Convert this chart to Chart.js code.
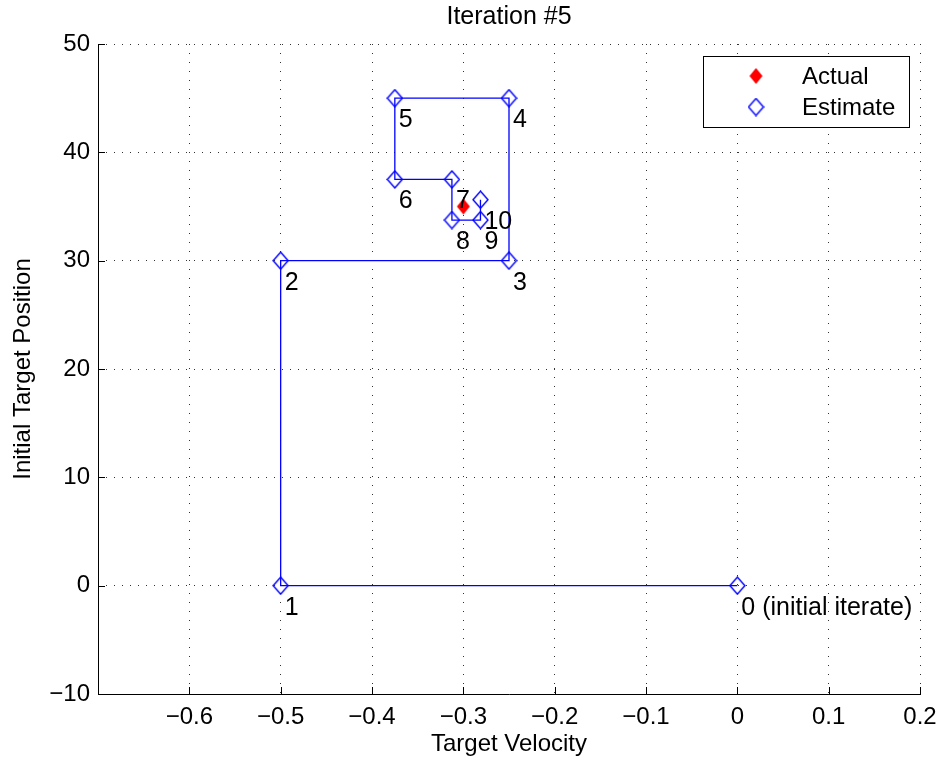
<!DOCTYPE html>
<html>
<head>
<meta charset="utf-8">
<script src="https://cdn.jsdelivr.net/npm/chart.js@4.4.1/dist/chart.umd.min.js"></script>
<style>
  html, body { margin: 0; padding: 0; background: #ffffff; }
  #wrap { width: 943px; height: 761px; }
</style>
</head>
<body>
<div id="wrap"><canvas id="c" width="943" height="761"></canvas></div>
<script>
// ---- data ----
const iterateLabels = ['0 (initial iterate)', '1', '2', '3', '4', '5', '6', '7', '8', '9', '10'];
const estimateVelocity = [0, -0.5, -0.5, -0.25, -0.25, -0.375, -0.375, -0.3125, -0.3125, -0.28125, -0.28125];
const estimatePosition = [0, 0, 30, 30, 45, 45, 37.5, 37.5, 33.75, 33.75, 35.625];
const actualVelocity = [-0.3];
const actualPosition = [35];
const xTickValues = [-0.7, -0.6, -0.5, -0.4, -0.3, -0.2, -0.1, 0, 0.1, 0.2];
const yTickValues = [-10, 0, 10, 20, 30, 40, 50];
const hiddenXTickLabels = [-0.7];
const chartTitle = 'Iteration #5';
const xAxisTitle = 'Target Velocity';
const yAxisTitle = 'Initial Target Position';
const legendLabels = ['Actual', 'Estimate'];

// ---- styles ----
const FONT = "'Liberation Sans', Arial, Helvetica, sans-serif";
const FS = 24;
const BLUE = '#0000ff';
const RED = '#ff0000';

function makeDiamond(w, h, fill, stroke) {
  const cv = document.createElement('canvas');
  cv.width = w + 2; cv.height = h + 2;
  const g = cv.getContext('2d');
  const cx = cv.width / 2, cy = cv.height / 2;
  g.beginPath();
  g.moveTo(cx, cy - h / 2);
  g.lineTo(cx + w / 2, cy);
  g.lineTo(cx, cy + h / 2);
  g.lineTo(cx - w / 2, cy);
  g.closePath();
  if (fill) { g.fillStyle = fill; g.fill(); }
  if (stroke) { g.strokeStyle = stroke; g.lineWidth = 1.4; g.stroke(); }
  return cv;
}
const blueDiamond = makeDiamond(15, 17, null, BLUE);
const redDiamond = makeDiamond(13, 16, RED, null);

function fmt(v) {
  const r = Math.round(v * 10) / 10;
  if (r === 0) return '0';
  const s = Number.isInteger(r) ? String(Math.abs(r)) : Math.abs(r).toFixed(1);
  return (r < 0 ? '\u2212' : '') + s;
}

const decor = {
  id: 'decor',
  afterDatasetsDraw(chart) {
    const ctx = chart.ctx;
    const xs = chart.scales.x, ys = chart.scales.y;
    const a = chart.chartArea;
    ctx.save();
    // inward tick marks
    ctx.strokeStyle = '#000';
    ctx.lineWidth = 1;
    ctx.setLineDash([]);
    ctx.beginPath();
    yTickValues.forEach(v => {
      const py = Math.round(ys.getPixelForValue(v)) + 0.5;
      ctx.moveTo(a.left, py); ctx.lineTo(a.left + 7, py);
    });
    xTickValues.forEach(v => {
      const px = Math.round(xs.getPixelForValue(v)) + 0.5;
      ctx.moveTo(px, a.bottom); ctx.lineTo(px, a.bottom - 7);
    });
    ctx.stroke();
    // axis lines
    ctx.beginPath();
    ctx.moveTo(Math.round(a.left) + 0.5, a.top);
    ctx.lineTo(Math.round(a.left) + 0.5, Math.round(a.bottom) + 0.5);
    ctx.lineTo(a.right + 1, Math.round(a.bottom) + 0.5);
    ctx.stroke();

    // iterate labels
    ctx.fillStyle = '#000';
    ctx.font = '25px ' + FONT;
    ctx.textAlign = 'left';
    ctx.textBaseline = 'alphabetic';
    iterateLabels.forEach((t, i) => {
      const px = xs.getPixelForValue(estimateVelocity[i]);
      const py = ys.getPixelForValue(estimatePosition[i]);
      ctx.fillText(t, px + 4, py + 29);
    });

    // legend
    ctx.font = FS + 'px ' + FONT;
    const lx = 703.5, ly = 56.5, lw = 206, lh = 71;
    ctx.fillStyle = '#fff';
    ctx.fillRect(lx, ly, lw, lh);
    ctx.strokeStyle = '#000';
    ctx.lineWidth = 1;
    ctx.strokeRect(lx, ly, lw, lh);
    ctx.drawImage(redDiamond, 756 - redDiamond.width / 2, 76 - redDiamond.height / 2);
    ctx.drawImage(blueDiamond, 756 - blueDiamond.width / 2, 107 - blueDiamond.height / 2);
    ctx.fillStyle = '#000';
    ctx.textBaseline = 'middle';
    ctx.fillText(legendLabels[0], 802, 77);
    ctx.fillText(legendLabels[1], 802, 108);

    // titles
    ctx.textAlign = 'center';
    ctx.textBaseline = 'alphabetic';
    const cx = (a.left + a.right) / 2;
    const cy = (a.top + a.bottom) / 2;
    ctx.font = '25px ' + FONT;
    ctx.fillText(chartTitle, cx, 24);
    ctx.font = FS + 'px ' + FONT;
    ctx.fillText(xAxisTitle, cx, 751);
    ctx.save();
    ctx.translate(30, cy);
    ctx.rotate(-Math.PI / 2);
    ctx.fillText(yAxisTitle, 0, 0);
    ctx.restore();
    ctx.restore();
  }
};

Chart.defaults.font.family = FONT;
Chart.defaults.font.size = FS;
Chart.defaults.color = '#000';

new Chart(document.getElementById('c'), {
  type: 'scatter',
  data: {
    datasets: [
      {
        label: legendLabels[0],
        data: actualVelocity.map((v, i) => ({ x: v, y: actualPosition[i] })),
        pointStyle: redDiamond,
        showLine: false
      },
      {
        label: legendLabels[1],
        data: estimateVelocity.map((v, i) => ({ x: v, y: estimatePosition[i] })),
        pointStyle: blueDiamond,
        showLine: true,
        borderColor: BLUE,
        borderWidth: 1.3,
        tension: 0,
        fill: false
      }
    ]
  },
  options: {
    responsive: false,
    animation: false,
    devicePixelRatio: 1,
    events: [],
    layout: { padding: { top: 44, right: 0, left: 0, bottom: 0 } },
    plugins: { legend: { display: false }, title: { display: false }, tooltip: { enabled: false } },
    scales: {
      x: {
        type: 'linear', min: -0.7, max: 0.2,
        afterBuildTicks: s => { s.ticks = xTickValues.map(v => ({ value: v })); },
        afterFit: s => { s.height = 67; s.paddingRight = 23; s.paddingLeft = 0; },
        ticks: {
          padding: 9, maxRotation: 0, autoSkip: false,
          callback: v => hiddenXTickLabels.some(h => Math.abs(h - v) < 1e-9) ? '' : fmt(v)
        },
        grid: { color: 'rgba(0,0,0,0.8)', lineWidth: 1, drawTicks: false },
        border: { display: false, dash: [1, 8] }
      },
      y: {
        type: 'linear', min: -10, max: 50,
        afterBuildTicks: s => { s.ticks = yTickValues.map(v => ({ value: v })); },
        afterFit: s => { s.width = 98; s.paddingTop = 0; s.paddingBottom = 0; },
        ticks: { padding: 8, autoSkip: false, callback: v => fmt(v) },
        grid: { color: 'rgba(0,0,0,0.8)', lineWidth: 1, drawTicks: false },
        border: { display: false, dash: [1, 7] }
      }
    }
  },
  plugins: [decor]
});
</script>
</body>
</html>
